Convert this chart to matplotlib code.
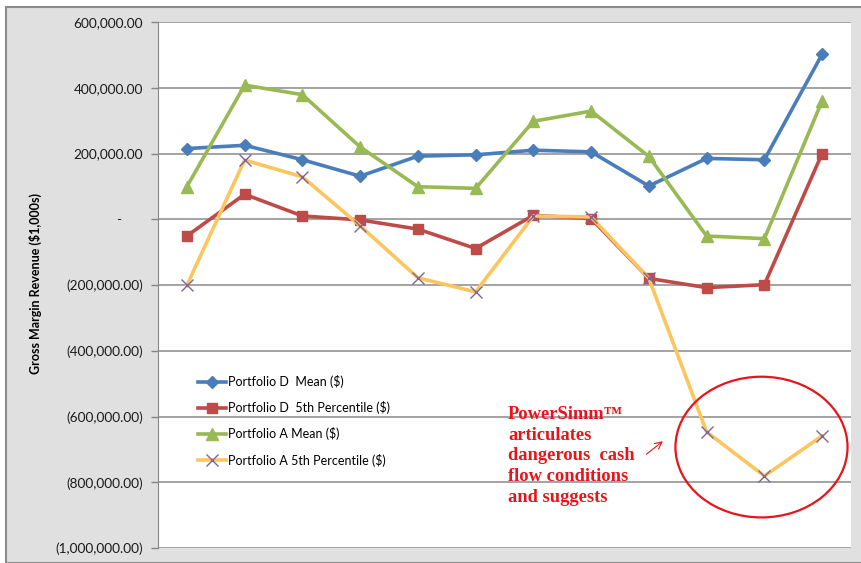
import matplotlib
matplotlib.use("Agg")
import matplotlib.pyplot as plt
from matplotlib.patches import Rectangle, Ellipse
from matplotlib.ticker import FuncFormatter

categories = list(range(1, 13))
d_mean = [215000, 225000, 181000, 131000, 192000, 196000, 210000, 205000, 101000, 185000, 181000, 502000]
d_p5 = [-51000, 76000, 10000, -2000, -30000, -89000, 12000, 2000, -180000, -208000, -199000, 200000]
a_mean = [99000, 408000, 379000, 220000, 99000, 94000, 298000, 329000, 191000, -51000, -59000, 360000]
a_p5 = [-201000, 180000, 129000, -20000, -178000, -221000, 10000, 7000, -180000, -647000, -781000, -659000]
series_names = ["Portfolio D  Mean ($)", "Portfolio D  5th Percentile ($)",
                "Portfolio A Mean ($)", "Portfolio A 5th Percentile ($)"]
yticks = [600000, 400000, 200000, 0, -200000, -400000, -600000, -800000, -1000000]
annotation = "PowerSimm™\narticulates\ndangerous  cash\nflow conditions\nand suggests"

plt.rcParams['font.family'] = ['Lato', 'DejaVu Sans']

W, H = 861, 563
fig = plt.figure(figsize=(W / 100, H / 100), dpi=100)
fig.patch.set_facecolor('white')
fig.patches.append(Rectangle((6 / W, 0), 1, 1 - 6.5 / H, transform=fig.transFigure,
                             facecolor='#e0e0e0', edgecolor='#8c8c8c', linewidth=1.5, zorder=-5))

ax = fig.add_axes([158 / W, 1 - 548 / H, (851 - 158) / W, (548 - 22) / H])
ax.set_zorder(1)
ax.set_facecolor('white')
x = list(range(len(categories)))

ax.plot(x, d_mean, color='#4a7ebb', lw=2.6, marker='D', ms=6.5, label=series_names[0], zorder=3)
ax.plot(x, d_p5, color='#be4b48', lw=2.6, marker='s', ms=7.5, label=series_names[1], zorder=3)
ax.plot(x, a_mean, color='#98b954', lw=2.6, marker='^', ms=8, label=series_names[2], zorder=3)
ax.plot(x, a_p5, color='#fcc55d', lw=2.6, marker='x', ms=8, mec='#7e649e', mew=1.0,
        label=series_names[3], zorder=3)

ax.set_xlim(-0.5, len(categories) - 0.5)
ax.set_ylim(-1000000, 600000)
ax.set_xticks([])
ax.set_yticks(yticks)

def fmt(v, pos):
    if v == 0:
        return '-      '
    if v < 0:
        return '({:,.2f})'.format(-v)
    return '{:,.2f}'.format(v)

ax.yaxis.set_major_formatter(FuncFormatter(fmt))
ax.tick_params(axis='y', length=5, width=1, color='#868686', labelsize=9.8, pad=6, labelcolor='#1a1a1a')
ax.grid(axis='y', color='#8a8a8a', lw=1.1, zorder=1)
for s in ['top', 'right', 'bottom']:
    ax.spines[s].set_visible(False)
ax.spines['left'].set_color('#868686')
ax.set_ylabel('Gross Margin Revenue ($1,000s)', fontsize=9, fontweight='bold')
ax.yaxis.set_label_coords((42 - 158) / (851 - 158), (548 - 284) / (548 - 22))

leg = ax.legend(loc='upper left', bbox_to_anchor=(187 / W, 1 - 364 / H), bbox_transform=fig.transFigure,
                frameon=False, fontsize=9, labelspacing=1.05, handlelength=2.2, handletextpad=0.2)

ax.add_patch(Ellipse((9.95, -693000), 2.98, 428000, fill=False, edgecolor='#e8141b', lw=1.6, zorder=4))
ax.annotate('', xy=(8.28, -670000), xytext=(7.92, -720000),
            arrowprops=dict(arrowstyle='->,head_length=0.5,head_width=0.25', color='#e8141b', lw=0.8))
fig.text(508 / W, 1 - 406 / H, annotation, color='#e8141b',
         fontsize=13.3, fontweight='bold', family=['Liberation Serif'], va='top', ha='left',
         linespacing=1.28, zorder=5)

fig.savefig('out.png', dpi=100)
